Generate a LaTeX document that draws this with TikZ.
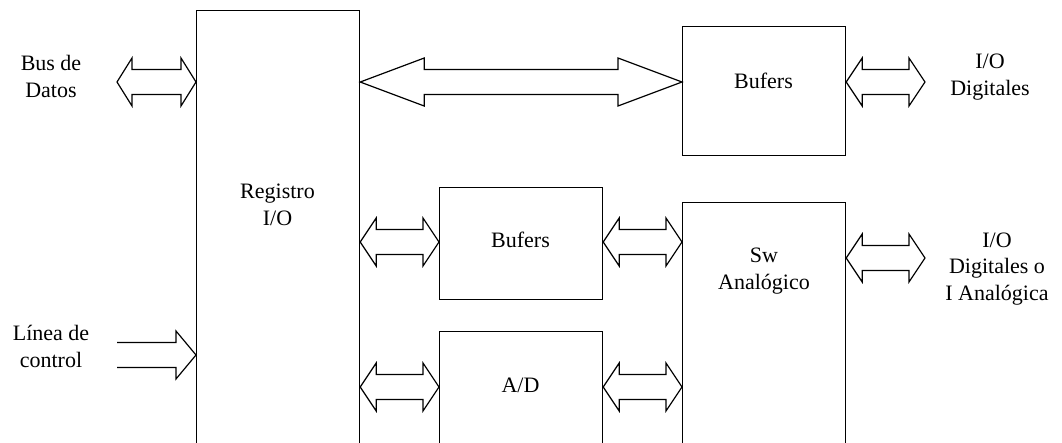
\documentclass[tikz,border=0pt]{standalone}
\usepackage{fontspec}
\setmainfont{Liberation Serif}
\usetikzlibrary{calc}

% hollow two-headed bus arrow between two points on the same level
\newcommand\busarrow[3]{%
  \draw[hollow] let \p1=#1, \p2=#2 in
    (\p1) -- (\x1+#3,\y1+24pt) -- (\x1+#3,\y1+12.5pt) -- (\x2-#3,\y1+12.5pt)
    -- (\x2-#3,\y1+24pt) -- (\p2) -- (\x2-#3,\y1-24pt) -- (\x2-#3,\y1-12.5pt)
    -- (\x1+#3,\y1-12.5pt) -- (\x1+#3,\y1-24pt) -- cycle;}
% hollow one-headed arrow with an open tail
\newcommand\inarrow[3]{%
  \draw[hollow] let \p1=#1, \p2=#2 in
    (\x1,\y1+12.5pt) -- (\x2-#3,\y1+12.5pt) -- (\x2-#3,\y1+24pt) -- (\p2)
    -- (\x2-#3,\y1-24pt) -- (\x2-#3,\y1-12.5pt) -- (\x1,\y1-12.5pt);}

\begin{document}
\begin{tikzpicture}[x=1pt,y=-1pt,
  block/.style={draw,line width=1.2pt,rectangle,inner sep=0pt,anchor=north west},
  hollow/.style={line width=1.2pt,line join=miter},
  lbl/.style={align=center,inner sep=0pt,font=\fontsize{22}{26.5}\selectfont,anchor=base}]
\useasboundingbox (0,0) rectangle (1062,442);
\clip (0,0) rectangle (1062,442);

% blocks (the tall ones run off the lower edge)
\node[block,minimum width=163pt,minimum height=460pt] (reg) at (196,10) {};
\node[block,minimum width=163pt,minimum height=129pt] (bufd) at (682,26) {};
\node[block,minimum width=163pt,minimum height=112pt] (bufa) at (439,187) {};
\node[block,minimum width=163pt,minimum height=140pt] (ad) at (439,331) {};
\node[block,minimum width=163pt,minimum height=260pt] (sw) at (682,202) {};

% block texts
\node[lbl] (tReg) at (277.5,225) {Registro\\I/O};
\node[lbl] (tBufd) at (763.5,88) {Bufers};
\node[lbl] (tBufa) at (520.5,247) {Bufers};
\node[lbl] (tAd) at (520.5,392) {A/D};
\node[lbl] (tSw) at (764,289) {Sw\\Anal\'ogico};

% outside labels
\node[lbl] (tBus) at (51,97) {Bus de\\Datos};
\node[lbl] (tCtl) at (51,367) {L\'inea de\\control};
\node[lbl] (tIod) at (990,95) {I/O\\Digitales};
\node[lbl] (tIoa) at (997,300) {I/O\\Digitales o\\I Anal\'ogica};

% levels of the arrows and their free ends
\coordinate (rowA) at (0,82);
\coordinate (rowB) at (0,242);
\coordinate (rowC) at (0,387);
\coordinate (rowD) at (0,258);
\coordinate (rowE) at (0,355);
\coordinate (busEnd) at (117,82);
\coordinate (ctlEnd) at (117,355);
\coordinate (iodEnd) at (925,82);
\coordinate (ioaEnd) at (925,258);

% arrows
\busarrow{(busEnd)}{(reg.west |- rowA)}{15pt}
\busarrow{(reg.east |- rowA)}{(bufd.west |- rowA)}{64pt}
\busarrow{(bufd.east |- rowA)}{(iodEnd)}{16pt}
\busarrow{(reg.east |- rowB)}{(bufa.west |- rowB)}{16pt}
\busarrow{(reg.east |- rowC)}{(ad.west |- rowC)}{16pt}
\busarrow{(bufa.east |- rowB)}{(sw.west |- rowB)}{16pt}
\busarrow{(ad.east |- rowC)}{(sw.west |- rowC)}{16pt}
\busarrow{(sw.east |- rowD)}{(ioaEnd)}{16pt}
\inarrow{(ctlEnd)}{(reg.west |- rowE)}{20pt}
\end{tikzpicture}
\end{document}
